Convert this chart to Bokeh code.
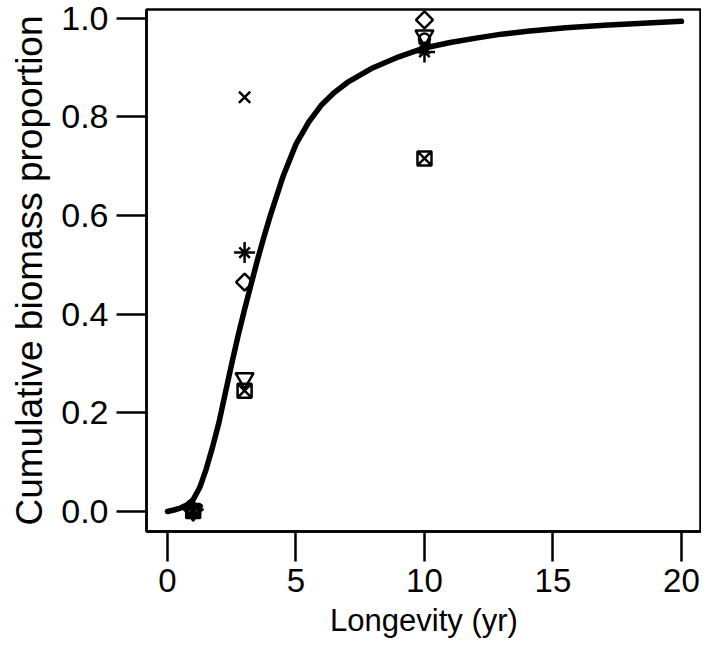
import math
from bokeh.plotting import figure
from bokeh.models import Range1d, FixedTicker, PrintfTickFormatter
from bokeh.embed import file_html
from bokeh.resources import INLINE

# fitted curve
curve_x = [0.0, 0.25, 0.5, 0.75, 1.0, 1.25, 1.5, 1.75, 2.0, 2.25, 2.5, 2.75, 3.0, 3.25, 3.5, 3.75,
           4.0, 4.5, 5.0, 5.5, 6.0, 6.5, 7.0, 8.0, 9.0, 10.0, 11.0, 12.0, 13.0, 14.0, 15.5, 17.0, 18.5, 20.0]
curve_y = [0.0, 0.003, 0.007, 0.013, 0.024, 0.048, 0.085, 0.130, 0.180, 0.240, 0.300, 0.357, 0.410,
           0.460, 0.510, 0.556, 0.600, 0.680, 0.745, 0.790, 0.825, 0.850, 0.870, 0.900, 0.922, 0.940,
           0.951, 0.960, 0.968, 0.974, 0.981, 0.986, 0.990, 0.994]

# observed points
longevity = [1, 3, 10]
cross_y = [0.002, 0.840, 0.940]       # x marker
star_y = [0.004, 0.525, 0.932]        # asterisk
diamond_y = [0.003, 0.465, 0.997]     # diamond
tri_y = [0.002, 0.270, 0.965]         # inverted triangle
sqx_y = [0.001, 0.245, 0.716]         # boxed x
circle_x = [1, 10]
circle_y = [0.003, 0.958]

x_ticks = [0, 5, 10, 15, 20]
y_ticks = [0.0, 0.2, 0.4, 0.6, 0.8, 1.0]

FONT = "Liberation Sans"

p = figure(width=701, height=650, output_backend="svg", toolbar_location=None,
           x_range=Range1d(-0.817, 20.78), y_range=Range1d(-0.0406, 1.018),
           min_border_left=146, min_border_top=9, min_border_right=0, min_border_bottom=119)
p.grid.visible = False
p.outline_line_color = "black"
p.outline_line_width = 2.5
p.background_fill_color = "white"
p.border_fill_color = "white"

for ax in (p.xaxis[0], p.yaxis[0]):
    ax.axis_line_color = "black"
    ax.axis_line_width = 2.5
    ax.major_tick_line_color = "black"
    ax.major_tick_line_width = 2.5
    ax.major_tick_out = 30
    ax.major_tick_in = 0
    ax.minor_tick_line_color = None
    ax.major_label_text_font = FONT
    ax.major_label_text_color = "black"
    ax.axis_label_text_font = FONT
    ax.axis_label_text_font_style = "normal"
    ax.axis_label_text_color = "black"

p.xaxis[0].major_label_text_font_size = "33px"
p.yaxis[0].major_label_text_font_size = "34px"
p.xaxis[0].axis_label_text_font_size = "31px"
p.yaxis[0].axis_label_text_font_size = "37px"

p.xaxis[0].ticker = FixedTicker(ticks=x_ticks)
p.yaxis[0].ticker = FixedTicker(ticks=y_ticks)
p.yaxis[0].formatter = PrintfTickFormatter(format="%.1f")
p.xaxis[0].axis_label = "Longevity (yr)"
p.yaxis[0].axis_label = "Cumulative biomass proportion"
p.xaxis[0].major_label_standoff = 7
p.yaxis[0].major_label_standoff = 8
p.xaxis[0].axis_label_standoff = 8
p.yaxis[0].axis_label_standoff = 8

p.line(curve_x, curve_y, line_color="black", line_width=5.5, line_cap="round", line_join="round")

lw = 2.5
p.scatter(longevity, cross_y, marker="x", size=16, line_color="black", line_width=lw)
p.scatter(longevity, star_y, marker="cross", size=21, line_color="black", line_width=lw)
p.scatter(longevity, star_y, marker="x", size=15, line_color="black", line_width=lw)
p.scatter(longevity, diamond_y, marker="square", angle=math.pi / 4, size=12,
          line_color="black", line_width=lw, fill_color=None)
p.scatter(longevity, tri_y, marker="inverted_triangle", size=18,
          line_color="black", line_width=lw, fill_color=None)
p.scatter(longevity, sqx_y, marker="square_x", size=14,
          line_color="black", line_width=lw, fill_color=None)
p.scatter(circle_x, circle_y, marker="circle", size=11,
          line_color="black", line_width=lw, fill_color=None)

open("out.html", "w").write(file_html(p, INLINE))
